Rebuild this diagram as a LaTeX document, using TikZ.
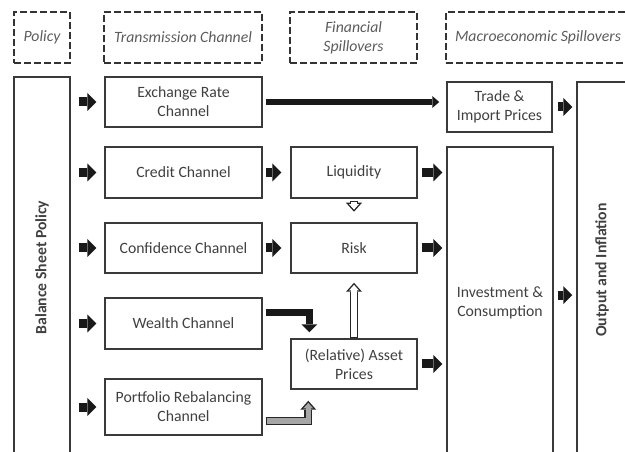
\documentclass[tikz,border=0pt]{standalone}
\usepackage{fontspec}
\usepackage{graphicx}
\setmainfont{Carlito}
\usetikzlibrary{positioning,calc,arrows.meta}
\tikzset{font=\fontsize{11.8}{14.3}\selectfont}
\definecolor{boxline}{HTML}{3A3A3A}
\definecolor{boxtext}{HTML}{404040}
\definecolor{headtext}{HTML}{5C5C5C}

\begin{document}
\begin{tikzpicture}[x=0.75pt, y=-0.75pt,
	box/.style={draw=boxline, line width=1.1pt, text=boxtext, align=center, inner sep=1pt},
	headbox/.style={draw=black!80, dash pattern=on 5.25pt off 2.25pt, line width=1.9pt, text=headtext, align=center, inner sep=1pt, minimum height=38.25pt, font=\fontsize{11.8}{14.3}\selectfont\itshape},
	blk/.style={draw=black!90, line width=6.75pt, -{Triangle[length=6.75pt, width=13.5pt, line width=0pt]}},
	bent/.style={draw=black!90, line width=5.25pt, line join=miter, -{Triangle[length=6pt, width=12pt, line width=0pt]}},
	lng/.style={draw=black!90, line width=4.5pt, -{Triangle[length=5.25pt, width=9pt, line width=0pt]}},
	hol/.style={line join=miter,
		preaction={draw=black!85, line width=6pt, shorten <=0pt, -{Triangle[length=6.75pt, width=12pt, line width=0pt]}},
		draw=#1, line width=3.9pt, shorten <=1.05pt, -{Triangle[length=4.12pt, width=7.32pt, sep=1.58pt, line width=0pt]},
		postaction={draw=#1, line width=3.9pt, shorten <=1.05pt, shorten >=5.4pt, -}},
	hol/.default=white]
	\useasboundingbox (0,0) rectangle (625,452);
	\clip (0,0) rectangle (625,452);

	\node[headbox, minimum width=42pt] (hpol) at (42,37.5) {Policy};
	\node[headbox, minimum width=118.5pt] (htrn) at (183,37.5) {Transmission Channel};
	\node[headbox, minimum width=95.25pt] (hfin) at (353.5,37.5) {Financial\\Spillovers};
	\node[headbox, minimum width=138pt] (hmac) at (538,37.5) {Macroeconomic Spillovers};

	\node[box, minimum width=42pt, minimum height=285.75pt] (bsp) at (42,267.5) {\rotatebox{90}{\bfseries Balance Sheet Policy}};

	\node[box, minimum width=117.75pt, minimum height=37.5pt] (exr) at (183.5,102) {Exchange Rate\\Channel};
	\node[box, minimum width=117.75pt, minimum height=38.25pt] (crd) at (183.5,172.5) {Credit Channel};
	\node[box, minimum width=117.75pt, minimum height=37.5pt] (cnf) at (183.5,248) {Confidence Channel};
	\node[box, minimum width=117.75pt, minimum height=38.25pt] (wea) at (183.5,323.5) {Wealth Channel};
	\node[box, minimum width=117.75pt, minimum height=42pt] (prt) at (183.5,407) {Portfolio Rebalancing\\Channel};

	\node[box, minimum width=94.5pt, minimum height=38.25pt] (liq) at (354,172.5) {Liquidity};
	\node[box, minimum width=94.5pt, minimum height=37.5pt] (rsk) at (354,248) {Risk};
	\node[box, minimum width=94.5pt, minimum height=37.5pt] (ast) at (354,364) {(Relative) Asset\\Prices};

	\node[box, minimum width=78.75pt, minimum height=37.5pt] (trd) at (499.5,107) {Trade \&\\Import Prices};
	\node[box, minimum width=79.5pt, minimum height=233.25pt] (inv) at (500,302.5) {Investment \&\\Consumption};
	\node[box, minimum width=37.5pt, minimum height=282pt] (out) at (602,270) {\rotatebox{90}{\bfseries Output and Inflation}};

	\foreach \n in {exr,crd,cnf,wea,prt}
		\draw[blk, shorten <=6pt, shorten >=6pt] (bsp.east |- \n.west) -- (\n.west);

	\draw[blk, shorten <=2.25pt, shorten >=6.75pt] (crd) -- (liq);
	\draw[blk, shorten <=2.25pt, shorten >=6.75pt] (cnf) -- (rsk);
	\foreach \n in {liq,rsk,ast}
		\draw[blk, shorten <=3pt, shorten >=3pt] (\n.east) -- (\n.east -| inv.west);
	\draw[blk, shorten <=3.75pt, shorten >=3pt] (trd.east) -- (trd.east -| out.west);
	\draw[blk, shorten <=3pt, shorten >=3pt] ([yshift=5.5pt]inv.east) -- ([yshift=5.5pt]inv.east -| out.west);

	\draw[lng, shorten <=2.25pt, shorten >=5.25pt] (exr.east) -- (exr.east -| trd.west);
	\draw[bent, shorten <=2.25pt, shorten >=4.5pt] ([yshift=8.25pt]wea.east) -| ([xshift=14.25pt]ast.north west);
	\draw[hol=black!35] ([xshift=2.25pt, yshift=-10.5pt]prt.east) -| ([xshift=13.5pt, yshift=-8.25pt]ast.south west);

	\draw[hol] (ast.north) -- ([yshift=-6.75pt]rsk.south);
	\draw[hol] ([yshift=-1.5pt]liq.south) -- ([yshift=7.9pt]rsk.north);
\end{tikzpicture}
\end{document}
